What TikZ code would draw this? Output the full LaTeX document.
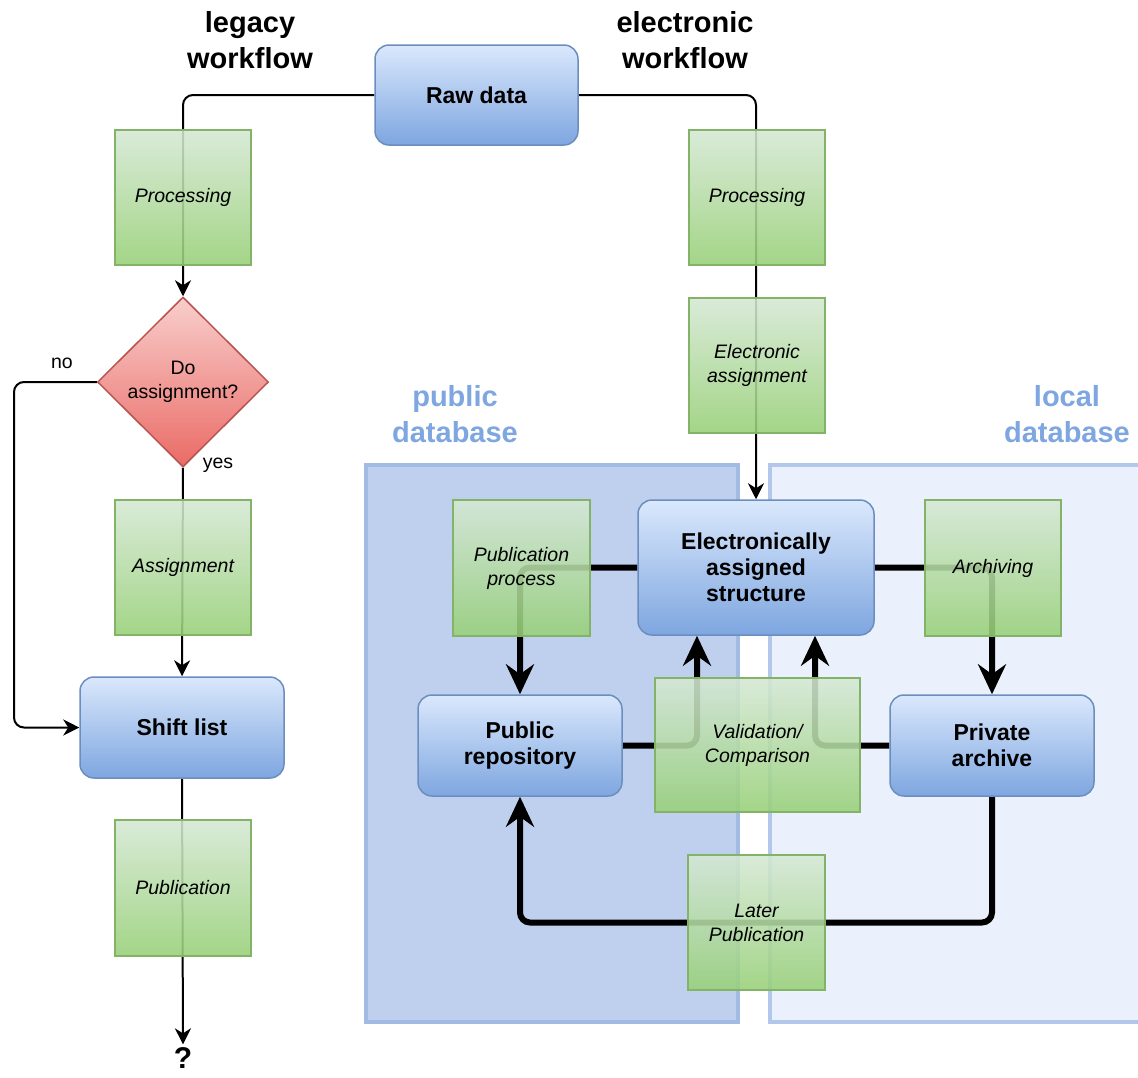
\documentclass[tikz,border=0pt]{standalone}
\usepackage{fontspec}
\setmainfont{Liberation Sans}
\usetikzlibrary{arrows.meta,shapes.geometric}
\pgfdeclarelayer{back}
\pgfdeclarelayer{edges}
\pgfsetlayers{back,edges,main}
\definecolor{gtop}{HTML}{D5E8D4}
\definecolor{gbot}{HTML}{97D077}
\definecolor{gborder}{HTML}{82B366}
\definecolor{btop}{HTML}{DAE8FC}
\definecolor{bbot}{HTML}{7EA6E0}
\definecolor{bborder}{HTML}{6C8EBF}
\definecolor{rtop}{HTML}{F8CECC}
\definecolor{rbot}{HTML}{EA6B66}
\definecolor{rborder}{HTML}{B85450}
\definecolor{pubfill}{HTML}{BED0EE}
\definecolor{pubborder}{HTML}{A2BBE2}
\definecolor{locfill}{HTML}{EBF1FC}
\definecolor{locborder}{HTML}{B2C7EA}
\definecolor{dblabel}{HTML}{7EA6E0}
\newcommand\itfnt{\fontsize{19.5}{24}\selectfont\itshape}
\newcommand\bfnt{\fontsize{23}{26}\selectfont\bfseries}
\newcommand\hfnt{\fontsize{29}{36}\selectfont\bfseries}
\newcommand\smfnt{\fontsize{19.5}{24}\selectfont}
\begin{document}
\begin{tikzpicture}[x=1pt,y=-1pt,
  greenbox/.style={rectangle, draw=gborder, line width=1.5pt, top color=gtop, bottom color=gbot,
    fill opacity=0.88, text opacity=1, minimum width=136pt, minimum height=135pt, inner sep=0pt,
    font=\itfnt, align=center},
  bluebox/.style={rectangle, rounded corners=14pt, draw=bborder, line width=1.5pt, top color=btop,
    bottom color=bbot, inner sep=0pt, font=\bfnt, align=center, minimum width=204pt, minimum height=101pt},
  thinline/.style={line width=2pt, rounded corners=10pt, -{Stealth[length=16pt,width=16pt,inset=5pt]}},
  thickline/.style={line width=6pt, rounded corners=10pt, -{Stealth[length=30pt,width=28pt,inset=10pt]}},
  dblab/.style={font=\hfnt, text=dblabel, align=center},
  headlab/.style={font=\hfnt, align=center}
]
\useasboundingbox (0,0) rectangle (1138,1077);

% regions
\begin{pgfonlayer}{back}
\fill[white] (0,0) rectangle (1138,1077);
\node[draw=pubborder, fill=pubfill, line width=4pt, minimum width=372pt, minimum height=557pt, inner sep=0pt] (pubdb) at (552,743.5) {};
\node[draw=locborder, fill=locfill, line width=4pt, minimum width=374pt, minimum height=557pt, inner sep=0pt] (locdb) at (957,743.5) {};
\end{pgfonlayer}

\node[headlab] (leg) at (250,40) {legacy\\workflow};
\node[headlab] (ele) at (685,40) {electronic\\workflow};
\node[dblab] (publab) at (455,414) {public\\database};
\node[dblab] (loclab) at (1067,414) {local\\database};

% legacy column
\node[bluebox, minimum width=203pt, minimum height=100pt] (raw) at (476.5,95) {Raw data};
\node[greenbox] (proc1) at (183,197.5) {Processing};
\node[diamond, aspect=1, draw=rborder, line width=1.5pt, top color=rtop, bottom color=rbot,
  minimum width=171pt, minimum height=170pt, inner sep=0pt, font=\smfnt, align=center] (dia) at (183,382) {Do\\assignment?};
\node[greenbox] (assign) at (183,567.5) {Assignment};
\node[bluebox] (shift) at (182,727.5) {Shift list};
\node[greenbox, minimum height=136pt] (pub) at (183,888) {Publication};
\node[font=\fontsize{30}{36}\selectfont\bfseries, inner sep=3pt] (q) at (183,1058) {?};
\node[font=\smfnt] (nolab) at (62,363) {no};
\node[font=\smfnt] (yeslab) at (218,465) {yes};

% electronic column
\node[greenbox] (proc2) at (757,197.5) {Processing};
\node[greenbox] (eassign) at (757,365.5) {Electronic\\assignment};
\node[bluebox, minimum width=236pt, minimum height=135pt] (eas) at (756,567.5) {Electronically\\assigned\\structure};
\node[greenbox, minimum width=137pt, minimum height=136pt] (pp) at (521.5,568) {Publication\\process};
\node[greenbox, minimum height=136pt] (arch) at (993,568) {Archiving};
\node[bluebox] (pr) at (520,745.5) {Public\\repository};
\node[bluebox] (pa) at (992,745.5) {Private\\archive};
\node[greenbox, minimum width=205pt, minimum height=134pt] (val) at (757.5,745) {Validation/\\Comparison};
\node[greenbox, minimum width=137pt] (later) at (756.5,922.5) {Later\\Publication};

\begin{pgfonlayer}{edges}
\draw[thinline] (raw.west) -| (dia.north);
\draw[thinline] (dia.south) -- (shift.north);
\draw[thinline] (dia.west) -- (14,382) |- (shift.west);
\draw[thinline] (shift.south) -- (q.north);
\draw[thinline] (raw.east) -| (eas.north);
\draw[thickline] (eas.west) -| (pr.north);
\draw[thickline] (eas.east) -| (pa.north);
\draw[thickline] (pr.east) -| ([xshift=-59pt]eas.south);
\draw[thickline] (pa.west) -| ([xshift=59pt]eas.south);
\draw[thickline] (pa.south) |- (later.center) -| (pr.south);
\end{pgfonlayer}
\end{tikzpicture}
\end{document}
